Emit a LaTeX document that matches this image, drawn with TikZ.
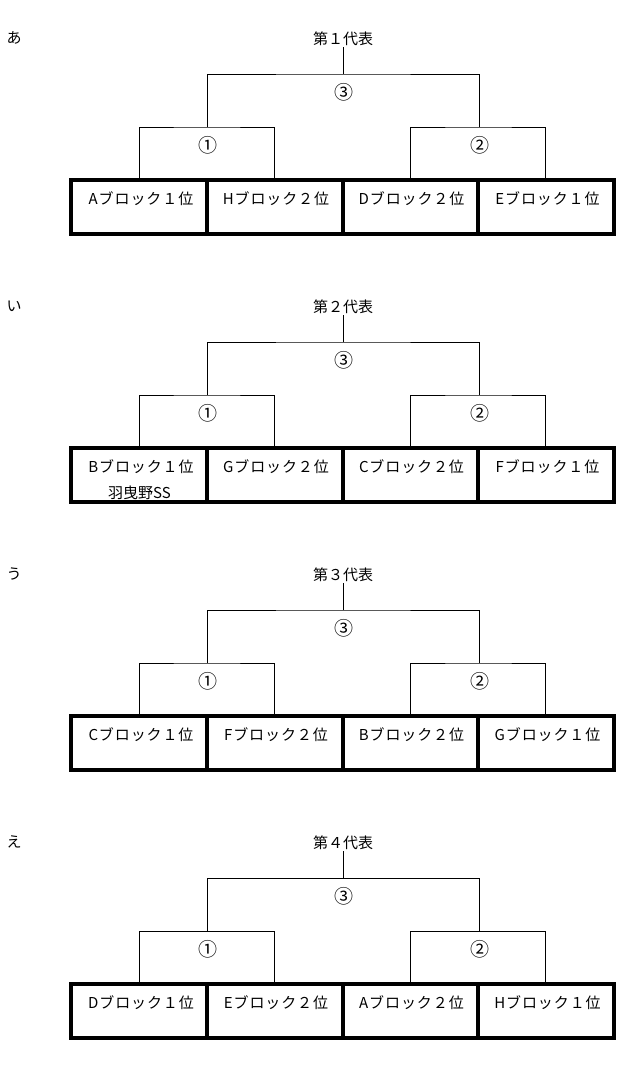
\documentclass[tikz,border=0pt]{standalone}
\usepackage{fontspec}
\setmainfont{Noto Sans CJK JP}
\newfontfamily\spacedjp[LetterSpace=6]{Noto Sans CJK JP}
\tikzset{
  cell/.style={draw, line width=4pt, minimum width=135.6pt, minimum height=54pt, inner sep=0pt},
  ctext/.style={font=\fontsize{15}{18}\selectfont, inner sep=0pt},
  btext/.style={font=\spacedjp\fontsize{15}{18}\selectfont, inner sep=0pt},
  ntext/.style={font=\fontsize{19}{22}\selectfont, inner sep=0pt},
  brk/.style={line width=1pt},
}
\newcommand\bracketrow[8]{%
\begin{scope}[yshift=#2]
  \node[ctext] (#1lab) at (14,38) {#3};
  \node[ctext, inner sep=1.5pt] (#1t) at (343,38.5) {#4};
  \node[cell] (#1c1) at (139.1,207) {};
  \node[cell] (#1c2) at (274.7,207) {};
  \node[cell] (#1c3) at (410.3,207) {};
  \node[cell] (#1c4) at (545.9,207) {};
  \node[btext] (#1x1) at (141,199) {#5};
  \node[btext] (#1x2) at (276,199) {#6};
  \node[btext] (#1x3) at (411.5,199) {#7};
  \node[btext] (#1x4) at (547.5,199) {#8};
  \coordinate (#1j1) at (207,127);
  \coordinate (#1j2) at (479,127);
  \coordinate (#1j3) at (343,74);
  \draw[brk] (#1c1.north) |- (#1j1) -| (#1c2.north);
  \draw[brk] (#1c3.north) |- (#1j2) -| (#1c4.north);
  \draw[brk] (#1j1) |- (#1j3) -| (#1j2);
  \draw[brk] (#1t.south) -- (#1j3);
  \node[ntext] (#1n1) at (207.5,145) {①};
  \node[ntext] (#1n2) at (479.5,145) {②};
  \node[ntext] (#1n3) at (343.5,92) {③};
\end{scope}}
\begin{document}
\begin{tikzpicture}[x=1pt, y=-1pt]
  \useasboundingbox[fill=white] (0,0) rectangle (641,1074);
  \bracketrow{a}{0pt}{あ}{第１代表}{Aブロック１位}{Hブロック２位}{Dブロック２位}{Eブロック１位}
  \bracketrow{b}{-268pt}{い}{第２代表}{Bブロック１位}{Gブロック２位}{Cブロック２位}{Fブロック１位}
  \bracketrow{c}{-536pt}{う}{第３代表}{Cブロック１位}{Fブロック２位}{Bブロック２位}{Gブロック１位}
  \bracketrow{d}{-804pt}{え}{第４代表}{Dブロック１位}{Eブロック２位}{Aブロック２位}{Hブロック１位}
  \node[ctext] (bx1b) at (139.5,493) {羽曳野SS};
\end{tikzpicture}
\end{document}
